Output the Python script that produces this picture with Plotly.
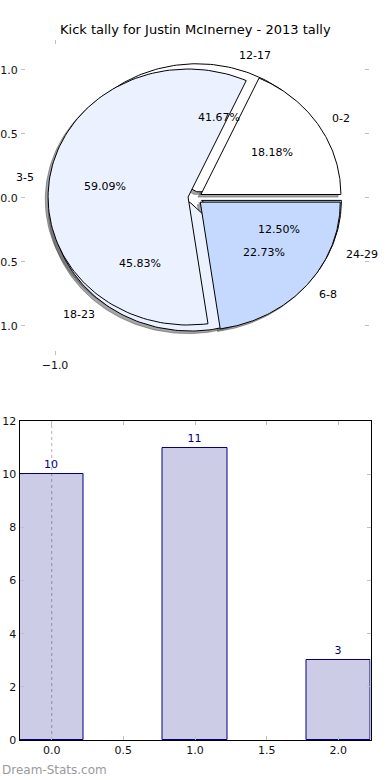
import numpy as np
import plotly.graph_objects as go

# ---------------- data ----------------
title_text = "Kick tally for Justin McInerney - 2013 tally"
pie1_labels = ["0-2", "3-5", "6-8"]
pie1_counts = [4, 13, 5]
pie2_labels = ["12-17", "18-23", "24-29"]
pie2_counts = [10, 11, 3]
slice_colors = ["#FFFFFF", "#EBF1FE", "#C5D9FE"]
explode = 0.05

bar_x = [0, 1, 2]
bar_values = [10, 11, 3]
bar_width = 0.45

pie_ytick_vals = [1.0, 0.5, 0.0, -0.5, -1.0]
pie_xtick_vals = [-1.0]
bar_ytick_vals = [0, 2, 4, 6, 8, 10, 12]
bar_xtick_vals = [0.0, 0.5, 1.0, 1.5, 2.0]

FONT = "DejaVu Sans"
W, H = 390, 780


def px_y(p):
    return 1 - p / H


fig = go.Figure()


def wedge_xy(cx, cy, t1, t2):
    ang = np.radians(np.linspace(t1, t2, 120))
    xs = np.concatenate([[cx], cx + np.cos(ang), [cx]])
    ys = np.concatenate([[cy], cy + np.sin(ang), [cy]])
    return xs, ys


def pie_geometry(counts):
    counts = np.asarray(counts, dtype=float)
    frac = counts / counts.sum()
    out = []
    t = 0.0
    for f in frac:
        t1, t2 = t, t + 360.0 * f
        tm = np.radians((t1 + t2) / 2)
        cx, cy = explode * np.cos(tm), explode * np.sin(tm)
        out.append((t1, t2, tm, cx, cy, f))
        t = t2
    return out


geo2 = pie_geometry(pie2_counts)
geo1 = pie_geometry(pie1_counts)

# shadows (below all wedges)
for geo in (geo2, geo1):
    for (t1, t2, tm, cx, cy, f) in geo:
        xs, ys = wedge_xy(cx - 0.02, cy - 0.02, t1, t2)
        fig.add_trace(go.Scatter(x=xs, y=ys, mode="lines", fill="toself",
                                 fillcolor="rgba(77,77,77,0.5)",
                                 line=dict(color="rgba(77,77,77,0.5)", width=1),
                                 hoverinfo="skip", showlegend=False,
                                 xaxis="x", yaxis="y"))

# wedges
for geo in (geo2, geo1):
    for i, (t1, t2, tm, cx, cy, f) in enumerate(geo):
        xs, ys = wedge_xy(cx, cy, t1, t2)
        fig.add_trace(go.Scatter(x=xs, y=ys, mode="lines", fill="toself",
                                 fillcolor=slice_colors[i],
                                 line=dict(color="black", width=1),
                                 hoverinfo="skip", showlegend=False,
                                 xaxis="x", yaxis="y"))

annotations = []
for labels, geo in ((pie2_labels, geo2), (pie1_labels, geo1)):
    for lab, (t1, t2, tm, cx, cy, f) in zip(labels, geo):
        lx = cx + 1.1 * np.cos(tm)
        ly = cy + 1.1 * np.sin(tm)
        annotations.append(dict(x=lx, y=ly, xref="x", yref="y", text=lab,
                                showarrow=False,
                                xanchor="left" if lx > 0 else "right",
                                yanchor="middle",
                                font=dict(family=FONT, size=11, color="black")))
        px_ = cx + 0.6 * np.cos(tm)
        py_ = cy + 0.6 * np.sin(tm)
        annotations.append(dict(x=px_, y=py_, xref="x", yref="y",
                                text="%.2f%%" % (100 * f),
                                showarrow=False, xanchor="center", yanchor="middle",
                                font=dict(family=FONT, size=11, color="black")))

# bar chart
fig.add_trace(go.Bar(x=bar_x, y=bar_values, width=bar_width,
                     marker=dict(color="rgba(0,0,128,0.2)",
                                 line=dict(color="navy", width=1)),
                     text=[str(v) for v in bar_values], textposition="outside",
                     textfont=dict(family=FONT, size=11, color="navy"),
                     cliponaxis=False, hoverinfo="skip", showlegend=False,
                     xaxis="x2", yaxis="y2"))

annotations.append(dict(x=0.5, y=px_y(30), xref="paper", yref="paper",
                        text=title_text, showarrow=False,
                        xanchor="center", yanchor="middle",
                        font=dict(family=FONT, size=13, color="black")))
annotations.append(dict(x=0, y=px_y(770), xref="paper", yref="paper",
                        text="Dream-Stats.com", showarrow=False,
                        xanchor="left", yanchor="middle",
                        font=dict(family=FONT, size=12, color="#9a9a9a")))

tickfont = dict(family=FONT, size=11, color="#111")
common = dict(showgrid=False, zeroline=False, automargin=False, fixedrange=True,
              ticks="inside", ticklen=4, tickwidth=1, tickcolor="#c0c0c0",
              mirror="allticks", tickfont=tickfont)
fig.update_layout(
    width=W, height=H, autosize=False,
    margin=dict(l=0, r=0, t=0, b=0, pad=0),
    paper_bgcolor="white", plot_bgcolor="rgba(0,0,0,0)",
    annotations=annotations,
    bargap=0,
    xaxis=dict(domain=[21 / W, 369 / W], range=[-1.243, 1.243], anchor="y",
               showline=True, linecolor="rgba(0,0,0,0)",
               tickvals=pie_xtick_vals, tickformat=".1f", **common),
    yaxis=dict(domain=[px_y(355), px_y(40)], range=[-1.227, 1.234], anchor="x",
               showline=True, linecolor="rgba(0,0,0,0)",
               tickvals=pie_ytick_vals, tickformat=".1f", **common),
    xaxis2=dict(domain=[19.5 / W, 370.5 / W], range=[-0.225, 2.225], anchor="y2",
                showline=True, linecolor="black", linewidth=1,
                tickvals=bar_xtick_vals, tickformat=".1f", **common),
    yaxis2=dict(domain=[px_y(740), px_y(421)], range=[0, 12], anchor="x2",
                showline=True, linecolor="black", linewidth=1,
                tickvals=bar_ytick_vals, **common),
    shapes=[dict(type="line", xref="x2", yref="y2 domain", x0=0, x1=0, y0=0, y1=1,
                 line=dict(color="#b0b0b0", width=1, dash="dot"), layer="below")],
)

fig.write_html("out.html", config={"displayModeBar": False},
               post_script="document.body.style.margin='0';"
                           "document.body.style.padding='0';"
                           "document.body.style.overflow='hidden';")
